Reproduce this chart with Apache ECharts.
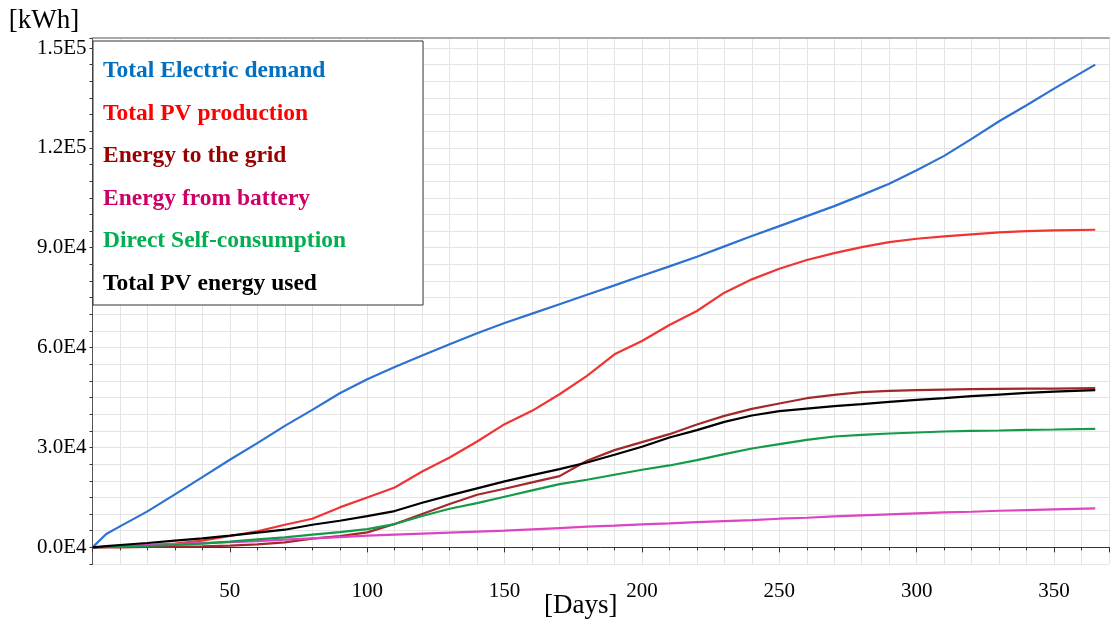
<!DOCTYPE html>
<html>
<head>
<meta charset="utf-8">
<title>Cumulative energy balance</title>
<script src="https://cdn.jsdelivr.net/npm/echarts@6/dist/echarts.min.js"></script>
<style>
  html, body { margin: 0; padding: 0; background: #ffffff; }
  #chart { width: 1112px; height: 624px; }
</style>
</head>
<body>
<div id="chart"></div>
<script>
// Day of the year at which each cumulative value is sampled
const days = [0, 5, 10, 20, 30, 40, 50, 60, 70, 80, 90, 100, 110, 120, 130, 140, 150, 160, 170, 180,
  190, 200, 210, 220, 230, 240, 250, 260, 270, 280, 290, 300, 310, 320, 330, 340, 350, 365];

// Cumulative energy [kWh]
const electricDemand = [0, 4000, 6300, 10800, 15900, 21100, 26300, 31300, 36500, 41300, 46300, 50500, 54200,
  57600, 61000, 64300, 67400, 70200, 73000, 75900, 78700, 81600, 84400, 87300, 90400, 93500, 96500,
  99500, 102500, 105800, 109200, 113300, 117600, 122700, 128000, 132800, 137800, 145000];
const pvProduction = [0, 100, 300, 700, 1100, 2000, 3400, 4800, 6800, 8600, 12000, 15000, 18000, 22800,
  27000, 31800, 37000, 41000, 46000, 51500, 58000, 62000, 66800, 71000, 76500, 80500, 83700, 86300,
  88400, 90200, 91700, 92700, 93400, 94000, 94600, 95000, 95200, 95400];
const energyToGrid = [0, 0, 0, 100, 200, 300, 500, 900, 1500, 2600, 3400, 4500, 7000, 10000, 13000,
  15800, 17600, 19500, 21400, 26000, 29200, 31600, 34000, 36900, 39500, 41600, 43200, 44800, 45800,
  46600, 47000, 47200, 47400, 47500, 47600, 47700, 47700, 47800];
const energyFromBattery = [0, 180, 350, 700, 1000, 1300, 1600, 1900, 2300, 2700, 3100, 3500, 3800, 4100,
  4400, 4700, 5000, 5400, 5800, 6200, 6500, 6900, 7200, 7600, 7900, 8200, 8600, 8900, 9300, 9600,
  9900, 10200, 10500, 10700, 11000, 11200, 11400, 11700];
const directSelfConsumption = [0, 100, 200, 400, 700, 1100, 1700, 2400, 3000, 3800, 4600, 5500, 7000, 9400,
  11600, 13300, 15200, 17100, 19000, 20300, 21800, 23300, 24600, 26200, 28000, 29700, 31000, 32300,
  33300, 33800, 34200, 34500, 34800, 35000, 35100, 35300, 35400, 35600];
const pvEnergyUsed = [0, 350, 700, 1300, 2000, 2700, 3500, 4400, 5300, 6800, 8000, 9400, 10900, 13400,
  15600, 17700, 19800, 21700, 23500, 25500, 27800, 30200, 33000, 35200, 37700, 39600, 40900, 41700,
  42400, 43000, 43700, 44300, 44800, 45400, 45900, 46400, 46800, 47200];

const seriesNames = ['Total Electric demand', 'Total PV production', 'Energy to the grid',
  'Energy from battery', 'Direct Self-consumption', 'Total PV energy used'];
const seriesValues = [electricDemand, pvProduction, energyToGrid, energyFromBattery,
  directSelfConsumption, pvEnergyUsed];
const lineColors = ['#2d72d2', '#f03434', '#a3282c', '#dd44c4', '#139a4a', '#000000'];
const textColors = ['#0070c0', '#ff0000', '#990000', '#cc0066', '#00b050', '#000000'];

const FONT = "'Liberation Serif', 'Times New Roman', serif";

// Labels like 1.5E5, 9.0E4, 0.0E4 every 30 000 kWh
function sciLabel(v) {
  if (v < 0 || v % 30000 !== 0) return '';
  if (v === 0) return '0.0E4';
  const e = Math.floor(Math.log10(v));
  return (v / Math.pow(10, e)).toFixed(1) + 'E' + e;
}

const chart = echarts.init(document.getElementById('chart'), null, { renderer: 'canvas' });

chart.setOption({
  backgroundColor: '#ffffff',
  animation: false,
  grid: { left: 92.5, top: 38, right: 3, bottom: 60, containLabel: false, outerBoundsMode: 'none' },
  legend: {
    orient: 'vertical',
    left: 93,
    top: 41,
    icon: 'none',
    itemWidth: 0,
    itemHeight: 24,
    itemGap: 18.6,
    padding: [18, 77, 9, 5],
    backgroundColor: '#ffffff',
    borderColor: '#333333',
    borderWidth: 1,
    selectedMode: false,
    textStyle: { fontFamily: FONT, fontSize: 23.5, fontWeight: 'bold', lineHeight: 24 },
    data: seriesNames.map((n, i) => ({ name: n, textStyle: { color: textColors[i] } }))
  },
  xAxis: [
    {
      // fine 10-day ticks and vertical grid
      type: 'value', min: 0, max: 370, interval: 10,
      position: 'bottom',
      name: '[Days]', nameLocation: 'middle', nameGap: 28,
      nameTextStyle: { fontFamily: FONT, fontSize: 27, color: '#000', padding: [0, 40, 0, 0] },
      axisLine: { show: true, lineStyle: { color: '#333', width: 1 } },
      axisTick: { show: true, length: 3, lineStyle: { color: '#333' } },
      axisLabel: { show: false },
      splitLine: { show: true, lineStyle: { color: '#e4e4e4', width: 1 } }
    },
    {
      // 50-day ticks with labels
      type: 'value', min: 0, max: 370, interval: 50,
      position: 'bottom',
      axisLine: { show: false },
      axisTick: { show: true, length: 5, lineStyle: { color: '#333' } },
      axisLabel: {
        show: true, margin: 17, fontFamily: FONT, fontSize: 21, color: '#000',
        formatter: v => (v > 0 && v % 50 === 0 ? String(v) : '')
      },
      splitLine: { show: false }
    },
    {
      // upper frame line
      type: 'value', min: 0, max: 370, position: 'top',
      axisLine: { show: true, lineStyle: { color: '#a8a8a8', width: 2 } },
      axisTick: { show: false }, axisLabel: { show: false }, splitLine: { show: false }
    }
  ],
  yAxis: [
    {
      type: 'value', min: -5000, max: 153000, interval: 5000,
      position: 'left',
      name: '[kWh]', nameLocation: 'end', nameGap: 4,
      nameTextStyle: { fontFamily: FONT, fontSize: 27, color: '#000', padding: [0, 97, 0, 0] },
      axisLine: { show: true, lineStyle: { color: '#333', width: 1 } },
      axisTick: { show: true, length: 3, lineStyle: { color: '#333' } },
      axisLabel: { show: true, margin: 6, fontFamily: FONT, fontSize: 21, color: '#000', formatter: sciLabel },
      splitLine: { show: true, lineStyle: { color: '#e4e4e4', width: 1 } }
    },
    {
      // right frame line
      type: 'value', min: -5000, max: 153000, position: 'right',
      axisLine: { show: true, lineStyle: { color: '#555', width: 1 } },
      axisTick: { show: false }, axisLabel: { show: false }, splitLine: { show: false }
    }
  ],
  series: seriesNames.map((n, i) => ({
    name: n,
    type: 'line',
    xAxisIndex: 0,
    yAxisIndex: 0,
    showSymbol: false,
    symbol: 'none',
    smooth: false,
    lineStyle: { color: lineColors[i], width: 2.2 },
    itemStyle: { color: lineColors[i] },
    z: 3,
    data: days.map((d, k) => [d, seriesValues[i][k]])
  }))
});
</script>
</body>
</html>
